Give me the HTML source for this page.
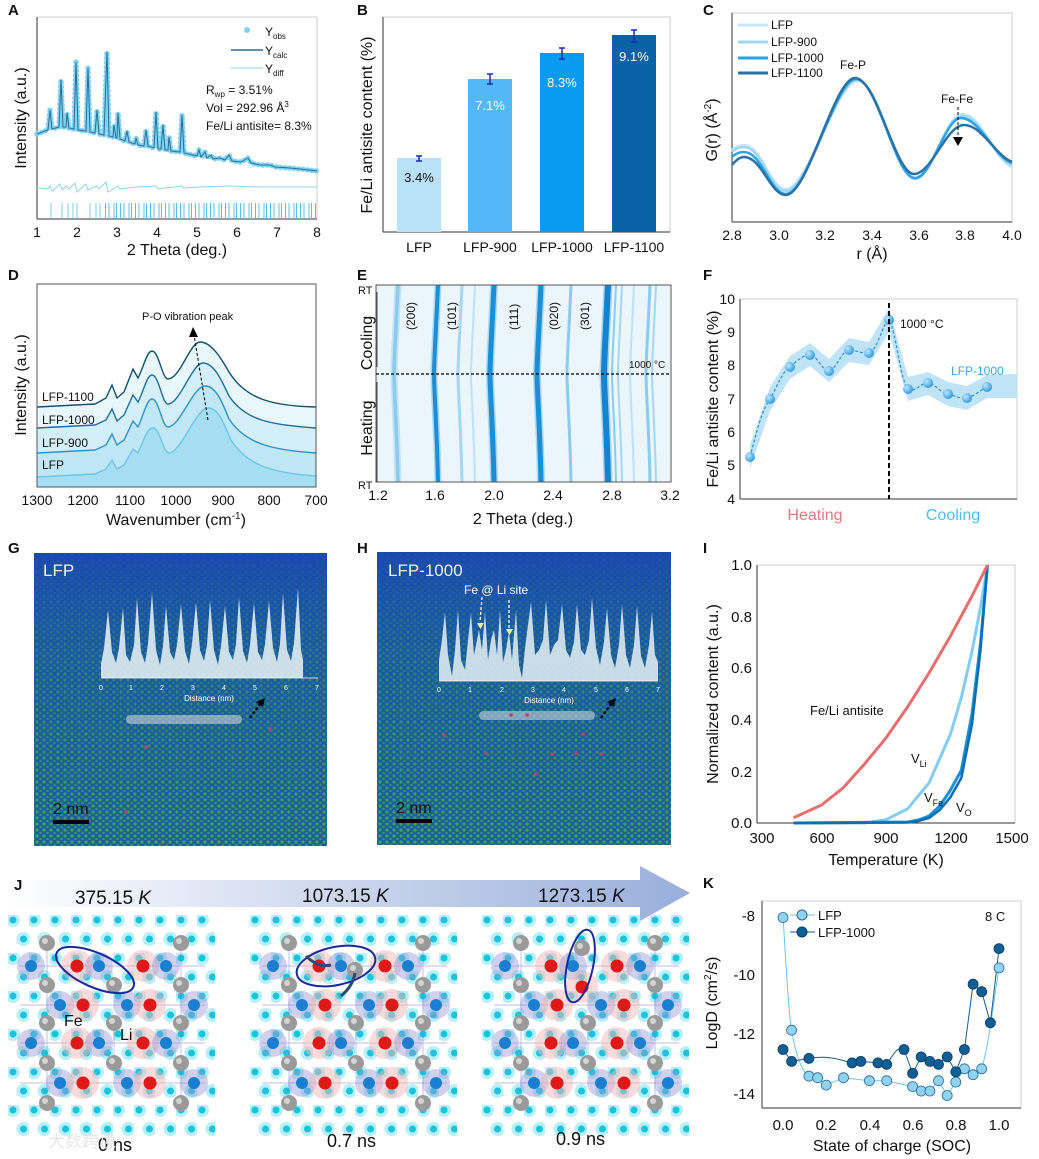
<!DOCTYPE html>
<html><head><meta charset="utf-8">
<style>
html,body{margin:0;padding:0;background:#fff}
svg{display:block}
text{font-family:"Liberation Sans","Noto Sans CJK SC",sans-serif;fill:#111}
.t{font-size:14px}
.lab{font-size:16px}
.pl{font-size:15px;font-weight:bold}
</style></head>
<body>
<svg width="1039" height="1159" viewBox="0 0 1039 1159" xmlns="http://www.w3.org/2000/svg">
<defs>
<pattern id="dots" width="7" height="6" patternUnits="userSpaceOnUse">
<rect width="7" height="6" fill="#1e5f96"/>
<circle cx="2" cy="2" r="1.6" fill="#3fae5a"/>
<circle cx="5.5" cy="5" r="1.3" fill="#36a06a"/>
</pattern>
<pattern id="cyan" width="21" height="38" patternUnits="userSpaceOnUse" x="8" y="915">
<circle cx="5" cy="5" r="7" fill="#86e4f0" opacity="0.6"/>
<circle cx="5" cy="5" r="3.5" fill="#18c4dc"/>
<circle cx="15.5" cy="24" r="7" fill="#86e4f0" opacity="0.6"/>
<circle cx="15.5" cy="24" r="3.5" fill="#18c4dc"/>
</pattern>
<linearGradient id="blueTop" x1="0" y1="0" x2="0" y2="1">
<stop offset="0" stop-color="#1a48b0" stop-opacity="0.95"/>
<stop offset="0.35" stop-color="#1a55a8" stop-opacity="0.55"/>
<stop offset="1" stop-color="#1a60a0" stop-opacity="0.1"/>
</linearGradient>
<linearGradient id="arrowG" x1="0" y1="0" x2="1" y2="0">
<stop offset="0" stop-color="#ffffff"/>
<stop offset="1" stop-color="#98aedb"/>
</linearGradient>
<radialGradient id="ball" cx="0.35" cy="0.35" r="0.7">
<stop offset="0" stop-color="#bfe8ff"/>
<stop offset="1" stop-color="#2a98e0"/>
</radialGradient>
<path id="st" d="M0 285C-2 330 -4 360 -4 374C-4 390 -1 430 0 482" fill="none"/>
<g id="ag"><circle r="8" fill="#9a9a9a"/><circle cx="-2" cy="-2" r="3" fill="#d4d4d4"/></g>
<g id="ar"><circle r="16" fill="#f4b8b8" opacity="0.5"/><circle r="6.5" fill="#e01818"/></g>
<g id="ab"><circle r="14" fill="#9a9ad8" opacity="0.45"/><circle r="6" fill="#1a7fd0"/></g>
<g id="pan">
<rect x="8" y="915" width="207" height="222" fill="url(#cyan)"/>
<g stroke="#6a6ad0" stroke-width="0.7" opacity="0.6">
<line x1="20" x2="205" y1="966" y2="966"/><line x1="20" x2="205" y1="1005" y2="1005"/><line x1="20" x2="205" y1="1043" y2="1043"/><line x1="20" x2="205" y1="1083" y2="1083"/>
<line x1="47" x2="47" y1="935" y2="1110"/><line x1="181" x2="181" y1="935" y2="1110"/><line x1="114" x2="114" y1="1015" y2="1070"/>
</g>
<use href="#ag" x="47" y="943"/><use href="#ag" x="181" y="943"/><use href="#ag" x="47" y="985"/><use href="#ag" x="181" y="985"/>
<use href="#ag" x="47" y="1023"/><use href="#ag" x="114" y="1023"/><use href="#ag" x="181" y="1023"/>
<use href="#ag" x="47" y="1063"/><use href="#ag" x="114" y="1063"/><use href="#ag" x="181" y="1063"/>
<use href="#ag" x="47" y="1103"/><use href="#ag" x="181" y="1103"/>
<use href="#ab" x="31" y="966"/><use href="#ar" x="77" y="966"/><use href="#ab" x="99" y="966"/><use href="#ar" x="143" y="966"/><use href="#ab" x="166" y="966"/>
<use href="#ab" x="60" y="1005"/><use href="#ar" x="83" y="1005"/><use href="#ab" x="127" y="1005"/><use href="#ar" x="150" y="1005"/><use href="#ab" x="194" y="1005"/>
<use href="#ab" x="31" y="1043"/><use href="#ar" x="77" y="1043"/><use href="#ab" x="99" y="1043"/><use href="#ar" x="143" y="1043"/><use href="#ab" x="166" y="1043"/>
<use href="#ab" x="60" y="1083"/><use href="#ar" x="83" y="1083"/><use href="#ab" x="127" y="1083"/><use href="#ar" x="150" y="1083"/><use href="#ab" x="194" y="1083"/>
</g>
</defs>

<!-- A -->
<text x="8" y="15" class="pl">A</text>
<rect x="37" y="17" width="280" height="202" fill="none" stroke="#ccc"/>
<line x1="37" y1="219" x2="317" y2="219" stroke="#333"/>
<line x1="37" y1="17" x2="37" y2="219" stroke="#333"/>
<path d="M37 134 L45 131 L48 130 L50 110 L52 129 L59 127 L61 80 L63 127 L66 127 L67 113 L69 128 L74 129 L76 62 L78 130 L86 131 L88 68 L90 132 L95 133 L97 110 L99 134 L104 135 L107 52 L109 136 L113 137 L114 125 L116 138 L117 138 L118 113 L120 139 L125 141 L127 131 L129 142 L135 144 L136 138 L138 145 L144 146 L146 130 L148 146 L154 148 L156 112 L158 149 L161 149 L163 125 L165 150 L168 150 L169 137 L171 151 L180 152 L182 115 L184 153 L197 156 L199 150 L201 157 L205 152 L207 158 L211 155 L213 159 L220 158 L225 160 L229 155 L232 161 L241 162 L248 158 L251 163 L260 165 L270 165 L275 167 L290 168 L300 169 L317 171" fill="none" stroke="#7ed3f3" stroke-width="5.5" stroke-dasharray="0 4.5" stroke-linecap="round"/>
<path d="M37 134 L45 131 L48 130 L50 110 L52 129 L59 127 L61 80 L63 127 L66 127 L67 113 L69 128 L74 129 L76 62 L78 130 L86 131 L88 68 L90 132 L95 133 L97 110 L99 134 L104 135 L107 52 L109 136 L113 137 L114 125 L116 138 L117 138 L118 113 L120 139 L125 141 L127 131 L129 142 L135 144 L136 138 L138 145 L144 146 L146 130 L148 146 L154 148 L156 112 L158 149 L161 149 L163 125 L165 150 L168 150 L169 137 L171 151 L180 152 L182 115 L184 153 L197 156 L199 150 L201 157 L205 152 L207 158 L211 155 L213 159 L220 158 L225 160 L229 155 L232 161 L241 162 L248 158 L251 163 L260 165 L270 165 L275 167 L290 168 L300 169 L317 171" fill="none" stroke="#2d6d94" stroke-width="1"/>
<path d="M37 188 L48 189 L50 186 L52 191 L60 184 L62 190 L66 186 L69 189 L75 183 L77 192 L86 184 L88 190 L97 186 L99 189 L106 182 L108 192 L118 186 L120 189 L137 187 L156 186 L158 189 L182 186 L184 188 L200 187 L230 186 L260 187 L317 187" fill="none" stroke="#8fd3ee" stroke-width="1"/>
<g stroke="#5cc0e4" stroke-width="0.8">
<path d="M51 203v16M62 203v16M68 203v16M73 203v16M77 203v16M90 203v16M96 203v16M100 203v16"/>
</g>
<line x1="105" y1="211" x2="317" y2="211" stroke="#5cc0e4" stroke-width="16" stroke-dasharray="1 2.5 1 4 1 1.5 1 3"/>
<g class="t" text-anchor="middle">
<text x="37" y="237">1</text><text x="77" y="237">2</text><text x="117" y="237">3</text><text x="157" y="237">4</text><text x="197" y="237">5</text><text x="237" y="237">6</text><text x="277" y="237">7</text><text x="317" y="237">8</text>
</g>
<text x="177" y="255" class="lab" text-anchor="middle">2 Theta (deg.)</text>
<text transform="translate(26,118) rotate(-90)" class="lab" text-anchor="middle">Intensity (a.u.)</text>
<circle cx="247" cy="30" r="3" fill="#7ed3f3"/>
<text x="265" y="36" font-size="12">Y<tspan font-size="8" dy="3">obs</tspan></text>
<line x1="231" y1="50" x2="263" y2="50" stroke="#2d6d94" stroke-width="1.5"/>
<text x="265" y="55" font-size="12">Y<tspan font-size="8" dy="3">calc</tspan></text>
<line x1="231" y1="68" x2="263" y2="68" stroke="#8fd3ee"/>
<text x="265" y="73" font-size="12">Y<tspan font-size="8" dy="3">diff</tspan></text>
<text x="206" y="94" font-size="12">R<tspan font-size="8" dy="3">wp</tspan><tspan dy="-3"> = 3.51%</tspan></text>
<text x="206" y="112" font-size="12">Vol = 292.96 Å<tspan font-size="8" dy="-5">3</tspan></text>
<text x="206" y="130" font-size="12">Fe/Li antisite= 8.3%</text>

<!-- B -->
<text x="357" y="15" class="pl">B</text>
<rect x="383" y="17" width="287" height="215" fill="none" stroke="#ccc"/>
<line x1="383" y1="232" x2="670" y2="232" stroke="#333"/>
<line x1="383" y1="17" x2="383" y2="232" stroke="#333"/>
<rect x="397" y="158" width="44" height="74" fill="#b9e2f9"/>
<rect x="468" y="79" width="44" height="153" fill="#53b9f6"/>
<rect x="540" y="53" width="44" height="179" fill="#0a9af0"/>
<rect x="612" y="35" width="44" height="197" fill="#0862a6"/>
<g stroke="#1a2bb0" stroke-width="1.5" fill="none">
<path d="M419 156v5M416 156h6M416 161h6"/>
<path d="M490 74v10M487 74h6M487 84h6"/>
<path d="M562 48v11M559 48h6M559 59h6"/>
<path d="M634 30v12M631 30h6M631 42h6"/>
</g>
<g text-anchor="middle" font-size="13">
<text x="419" y="182">3.4%</text>
<text x="490" y="110" style="fill:#fff">7.1%</text>
<text x="562" y="87" style="fill:#fff">8.3%</text>
<text x="634" y="61" style="fill:#fff">9.1%</text>
</g>
<g class="t" text-anchor="middle">
<text x="419" y="252">LFP</text><text x="490" y="252">LFP-900</text><text x="562" y="252">LFP-1000</text><text x="634" y="252">LFP-1100</text>
</g>
<text transform="translate(372,125) rotate(-90)" class="lab" text-anchor="middle">Fe/Li antisite content (%)</text>

<!-- C -->
<text x="703" y="15" class="pl">C</text>
<rect x="732" y="13" width="280" height="209" fill="none" stroke="#ccc"/>
<line x1="732" y1="222" x2="1012" y2="222" stroke="#333"/>
<line x1="732" y1="13" x2="732" y2="222" stroke="#333"/>
<g fill="none" stroke-width="2.5">
<path d="M732 150 C736 146 740 145 744 145 C762 145 770 189 786 189 C808 189 836 81 858 81 C880 81 895 178 915 178 C932 178 945 114 963 114 C982 114 995 162 1012 167" stroke="#c5e8f8"/>
<path d="M732 152 C736 148 740 147 744 147 C762 147 770 191 786 191 C808 191 836 80 857 80 C879 80 895 179 915 179 C932 179 945 116 962 116 C981 116 995 160 1012 165" stroke="#9fd6f2"/>
<path d="M732 157 C736 153 740 152 744 152 C762 152 770 194 786 194 C808 194 835 79 856 79 C878 79 895 178 915 178 C932 178 945 118 961 118 C980 118 995 158 1012 163" stroke="#2aa4e6"/>
<path d="M732 165 C736 160 740 157 744 157 C762 157 770 195 786 195 C808 195 834 78 855 78 C877 78 895 174 914 174 C932 174 946 125 964 125 C982 125 995 155 1012 162" stroke="#2a72a6"/>
</g>
<g stroke-width="3">
<line x1="738" y1="25" x2="768" y2="25" stroke="#c5e8f8"/>
<line x1="738" y1="42" x2="768" y2="42" stroke="#9fd6f2"/>
<line x1="738" y1="58" x2="768" y2="58" stroke="#2aa4e6"/>
<line x1="738" y1="73" x2="768" y2="73" stroke="#2a72a6"/>
</g>
<g font-size="12"><text x="771" y="29">LFP</text><text x="771" y="46">LFP-900</text><text x="771" y="62">LFP-1000</text><text x="771" y="77">LFP-1100</text></g>
<text x="840" y="69" font-size="12">Fe-P</text>
<text x="941" y="103" font-size="12">Fe-Fe</text>
<line x1="958" y1="107" x2="958" y2="138" stroke="#000" stroke-dasharray="3,2"/>
<path d="M953 137h10l-5 9z" fill="#000"/>
<g class="t" text-anchor="middle">
<text x="732" y="240">2.8</text><text x="779" y="240">3.0</text><text x="825" y="240">3.2</text><text x="872" y="240">3.4</text><text x="919" y="240">3.6</text><text x="965" y="240">3.8</text><text x="1012" y="240">4.0</text>
</g>
<text x="872" y="259" class="lab" text-anchor="middle">r (Å)</text>
<text transform="translate(717,130) rotate(-90)" class="lab" text-anchor="middle">G(r) (Å<tspan font-size="10" dy="-6">-2</tspan><tspan dy="6">)</tspan></text>

<!-- D -->
<text x="8" y="280" class="pl">D</text>
<path d="M37 407 L95 404 L106 398 L112 385 L117 398 L124 392 L133 369 L138 378 C144 366 147 351 152 351 C159 351 162 379 168 379 C180 379 190 342 200 342 C212 342 222 360 229 372 C245 398 270 406 316 407 L316 487 L37 487Z" fill="#e8f7fc"/>
<path d="M37 428 L95 425 L106 420 L112 409 L117 421 L124 415 L133 395 L138 402 C144 390 147 375 152 375 C159 375 162 404 168 404 C180 404 192 363 203 363 C215 363 223 384 229 396 C245 420 270 425 316 428 L316 487 L37 487Z" fill="#d4eff9"/>
<path d="M37 453 L95 450 L106 445 L112 434 L117 445 L124 440 L133 421 L138 427 C144 414 147 399 152 399 C159 399 162 427 168 427 C180 427 193 386 205 386 C217 386 224 407 229 419 C245 443 270 450 316 453 L316 487 L37 487Z" fill="#bfe7f6"/>
<path d="M37 477 L95 474 L106 469 L112 460 L117 469 L124 465 L133 449 L138 453 C144 440 147 428 153 428 C160 428 163 453 169 453 C181 453 196 408 208 408 C220 408 225 428 231 440 C246 464 270 473 316 476 L316 487 L37 487Z" fill="#a6def4"/>
<g fill="none" stroke-width="1.4">
<path d="M37 407 L95 404 L106 398 L112 385 L117 398 L124 392 L133 369 L138 378 C144 366 147 351 152 351 C159 351 162 379 168 379 C180 379 190 342 200 342 C212 342 222 360 229 372 C245 398 270 406 316 407" stroke="#12506e"/>
<path d="M37 428 L95 425 L106 420 L112 409 L117 421 L124 415 L133 395 L138 402 C144 390 147 375 152 375 C159 375 162 404 168 404 C180 404 192 363 203 363 C215 363 223 384 229 396 C245 420 270 425 316 428" stroke="#1e6ea0"/>
<path d="M37 453 L95 450 L106 445 L112 434 L117 445 L124 440 L133 421 L138 427 C144 414 147 399 152 399 C159 399 162 427 168 427 C180 427 193 386 205 386 C217 386 224 407 229 419 C245 443 270 450 316 453" stroke="#2f93c8"/>
<path d="M37 477 L95 474 L106 469 L112 460 L117 469 L124 465 L133 449 L138 453 C144 440 147 428 153 428 C160 428 163 453 169 453 C181 453 196 408 208 408 C220 408 225 428 231 440 C246 464 270 473 316 476" stroke="#6cc6ec"/>
</g>
<rect x="37" y="284" width="279" height="203" fill="none" stroke="#555"/>
<g font-size="12"><text x="42" y="401">LFP-1100</text><text x="42" y="424">LFP-1000</text><text x="42" y="447">LFP-900</text><text x="42" y="469">LFP</text></g>
<text x="142" y="320" font-size="11">P-O vibration peak</text>
<line x1="208" y1="420" x2="194" y2="335" stroke="#000" stroke-dasharray="3,2"/>
<path d="M189 337l4-10 5 10z" fill="#000"/>
<g class="t" text-anchor="middle">
<text x="37" y="505">1300</text><text x="83" y="505">1200</text><text x="130" y="505">1100</text><text x="176" y="505">1000</text><text x="223" y="505">900</text><text x="269" y="505">800</text><text x="316" y="505">700</text>
</g>
<text x="176" y="525" class="lab" text-anchor="middle">Wavenumber (cm<tspan font-size="10" dy="-6">-1</tspan><tspan dy="6">)</tspan></text>
<text transform="translate(26,385) rotate(-90)" class="lab" text-anchor="middle">Intensity (a.u.)</text>

<!-- E -->
<text x="357" y="280" class="pl">E</text>
<rect x="376" y="285" width="295" height="197" fill="#eaf5fc"/>
<g>
<use href="#st" x="398" stroke="#7cc4ec" stroke-width="7" opacity="0.35"/><use href="#st" x="398" stroke="#7cc4ec" stroke-width="3.5" opacity="0.8"/>
<use href="#st" x="438" stroke="#1a8fd8" stroke-width="7" opacity="0.3"/><use href="#st" x="438" stroke="#1a8fd8" stroke-width="4"/>
<use href="#st" x="462" stroke="#a6d6f2" stroke-width="3"/>
<use href="#st" x="475" stroke="#bfe1f5" stroke-width="2"/>
<use href="#st" x="494" stroke="#1a8fd8" stroke-width="8" opacity="0.3"/><use href="#st" x="494" stroke="#1a8fd8" stroke-width="5"/>
<use href="#st" x="541" stroke="#1a8fd8" stroke-width="8" opacity="0.3"/><use href="#st" x="541" stroke="#1a8fd8" stroke-width="5"/>
<use href="#st" x="571" stroke="#8ccbee" stroke-width="3"/>
<use href="#st" x="608" stroke="#1483d0" stroke-width="9" opacity="0.3"/><use href="#st" x="608" stroke="#1483d0" stroke-width="6"/>
<use href="#st" x="616" stroke="#8ccbee" stroke-width="2"/>
<use href="#st" x="622" stroke="#a6d6f2" stroke-width="2"/>
<use href="#st" x="634" stroke="#bfe1f5" stroke-width="2"/>
<use href="#st" x="650" stroke="#8ccbee" stroke-width="3"/>
<use href="#st" x="656" stroke="#a6d6f2" stroke-width="2"/>
</g>
<rect x="376" y="285" width="295" height="197" fill="none" stroke="#555"/>
<line x1="376" y1="374" x2="671" y2="374" stroke="#000" stroke-dasharray="3,2" stroke-width="1.2"/>
<text x="629" y="368" font-size="10">1000 °C</text>
<g font-size="12">
<text transform="translate(415,330) rotate(-90)">(200)</text>
<text transform="translate(456,330) rotate(-90)">(101)</text>
<text transform="translate(518,330) rotate(-90)">(111)</text>
<text transform="translate(558,330) rotate(-90)">(020)</text>
<text transform="translate(589,330) rotate(-90)">(301)</text>
</g>
<text x="358" y="294" font-size="11">RT</text>
<text x="358" y="489" font-size="11">RT</text>
<line x1="377" y1="292" x2="377" y2="367" stroke="#000" stroke-width="0.7"/>
<line x1="377" y1="382" x2="377" y2="482" stroke="#000" stroke-width="0.7"/>
<text transform="translate(372,343) rotate(-90)" class="lab" text-anchor="middle">Cooling</text>
<text transform="translate(372,428) rotate(-90)" class="lab" text-anchor="middle">Heating</text>
<g class="t" text-anchor="middle">
<text x="378" y="500">1.2</text><text x="435" y="500">1.6</text><text x="494" y="500">2.0</text><text x="553" y="500">2.4</text><text x="612" y="500">2.8</text><text x="670" y="500">3.2</text>
</g>
<text x="523" y="524" class="lab" text-anchor="middle">2 Theta (deg.)</text>

<!-- F -->
<text x="703" y="280" class="pl">F</text>
<rect x="740" y="299" width="277" height="200" fill="none" stroke="#ccc"/>
<line x1="740" y1="499" x2="1017" y2="499" stroke="#333"/>
<line x1="740" y1="299" x2="740" y2="499" stroke="#333"/>
<path d="M750 445 L770 387 L790 356 L810 343 L829 359 L849 338 L869 342 L889 308 L908 377 L928 372 L948 382 L967 386 L987 375 L1017 374 L1017 398 L987 398 L967 410 L948 406 L928 395 L908 401 L889 332 L869 365 L849 362 L829 382 L810 366 L790 379 L770 411 L750 468Z" fill="#bfe3f7"/>
<path d="M750 457 C757 430 762 410 770 399 C778 385 782 372 790 367 C798 360 803 355 810 355 C818 356 822 371 829 371 C836 370 842 350 849 350 C857 350 861 354 869 353 C878 350 883 322 889 320 C896 330 900 380 908 389 C916 393 920 383 928 383 C936 384 940 393 948 394 C956 396 960 399 967 398 C975 396 980 390 987 387" fill="none" stroke="#2a90d6" stroke-width="1.2" stroke-dasharray="3,2"/>
<g fill="url(#ball)">
<circle cx="750" cy="457" r="5"/><circle cx="770" cy="399" r="5"/><circle cx="790" cy="367" r="5"/><circle cx="810" cy="355" r="5"/><circle cx="829" cy="371" r="5"/><circle cx="849" cy="350" r="5"/><circle cx="869" cy="353" r="5"/><circle cx="889" cy="320" r="5"/><circle cx="908" cy="389" r="5"/><circle cx="928" cy="383" r="5"/><circle cx="948" cy="394" r="5"/><circle cx="967" cy="398" r="5"/><circle cx="987" cy="387" r="5"/>
</g>
<line x1="889" y1="303" x2="889" y2="499" stroke="#000" stroke-width="2" stroke-dasharray="5,3"/>
<text x="900" y="328" font-size="12">1000 °C</text>
<text x="951" y="375" font-size="12" style="fill:#3aa8e0">LFP-1000</text>
<g class="t" text-anchor="end">
<text x="735" y="304">10</text><text x="735" y="337">9</text><text x="735" y="370">8</text><text x="735" y="404">7</text><text x="735" y="437">6</text><text x="735" y="470">5</text><text x="735" y="504">4</text>
</g>
<text x="815" y="520" class="lab" text-anchor="middle" style="fill:#e07a80">Heating</text>
<text x="953" y="520" class="lab" text-anchor="middle" style="fill:#4cc0ea">Cooling</text>
<text transform="translate(718,399) rotate(-90)" class="lab" text-anchor="middle">Fe/Li antisite content (%)</text>

<!-- G -->
<text x="8" y="553" class="pl">G</text>
<rect x="34" y="553" width="293" height="293" fill="url(#dots)"/>
<rect x="34" y="553" width="293" height="293" fill="url(#blueTop)"/>
<path d="M101 678 L101 664 L104 648 L108 610 L112 652 L116 663 L119 648 L123 608 L126 655 L130 662 L134 645 L137 598 L141 652 L145 663 L148 644 L152 592 L156 650 L160 665 L163 646 L166 606 L170 652 L174 660 L177 645 L181 604 L185 651 L189 664 L192 644 L196 602 L200 650 L204 661 L207 645 L210 600 L214 650 L218 665 L221 646 L225 606 L229 652 L233 660 L236 644 L239 597 L243 651 L247 663 L250 645 L254 603 L258 652 L262 660 L265 644 L269 601 L273 648 L277 662 L280 644 L283 593 L287 650 L291 661 L294 643 L298 588 L301 650 L303 660 L303 678Z" fill="#dce9f1" opacity="0.92"/>
<line x1="101" y1="678" x2="318" y2="678" stroke="#fff" stroke-width="0.8"/>
<text x="43" y="576" font-size="17" style="fill:#f4f4dc">LFP</text>
<g font-size="7" text-anchor="middle">
<text x="101" y="690" style="fill:#fff">0</text><text x="131" y="690" style="fill:#fff">1</text><text x="162" y="690" style="fill:#fff">2</text><text x="193" y="690" style="fill:#fff">3</text><text x="224" y="690" style="fill:#fff">4</text><text x="255" y="690" style="fill:#fff">5</text><text x="286" y="690" style="fill:#fff">6</text><text x="317" y="690" style="fill:#fff">7</text>
<text x="209" y="701" font-size="8" style="fill:#fff">Distance (nm)</text>
</g>
<rect x="126" y="715" width="116" height="9" rx="4.5" fill="#d8dde2" opacity="0.55"/>
<line x1="250" y1="718" x2="260" y2="704" stroke="#000" stroke-width="2" stroke-dasharray="3,2"/>
<path d="M256 702l9-4-2 9z" fill="#000"/>
<text x="53" y="814" font-size="16">2 nm</text>
<rect x="53" y="820" width="36" height="4" fill="#000"/>
<g fill="#c04060"><circle cx="146" cy="747" r="1.8"/><circle cx="270" cy="729" r="1.8"/><circle cx="126" cy="812" r="1.8"/></g>

<!-- H -->
<text x="357" y="553" class="pl">H</text>
<rect x="377" y="552" width="294" height="293" fill="url(#dots)"/>
<rect x="377" y="552" width="294" height="293" fill="url(#blueTop)"/>
<path d="M439 681 L439 660 L442 640 L445 612 L448 655 L452 676 L455 650 L458 610 L461 660 L465 670 L468 640 L471 613 L474 655 L476 645 L479 630 L482 650 L485 612 L488 660 L491 640 L494 630 L497 655 L500 610 L503 662 L506 650 L509 632 L512 660 L516 610 L519 665 L522 678 L525 648 L531 602 L535 655 L539 650 L543 640 L546 600 L550 655 L554 645 L558 640 L562 604 L566 650 L570 658 L574 642 L577 604 L581 650 L585 655 L589 640 L592 598 L596 648 L600 665 L604 642 L607 608 L611 655 L615 668 L619 645 L622 604 L626 655 L630 668 L634 645 L637 606 L641 656 L645 668 L649 645 L652 612 L655 655 L658 662 L658 681Z" fill="#dce9f1" opacity="0.9"/>
<line x1="439" y1="681" x2="658" y2="681" stroke="#fff" stroke-width="0.8"/>
<text x="388" y="576" font-size="17" style="fill:#f4f4dc">LFP-1000</text>
<text x="464" y="594" font-size="12" style="fill:#fff">Fe @ Li site</text>
<g stroke="#fff" stroke-width="1.3" stroke-dasharray="3,2"><line x1="482" y1="597" x2="480" y2="622"/><line x1="509" y1="600" x2="509" y2="628"/></g>
<path d="M477 623h7l-3.5 6zM506 629h7l-3.5 6z" fill="#f6f0a0"/>
<g font-size="7" text-anchor="middle">
<text x="439" y="692" style="fill:#fff">0</text><text x="470" y="692" style="fill:#fff">1</text><text x="502" y="692" style="fill:#fff">2</text><text x="533" y="692" style="fill:#fff">3</text><text x="564" y="692" style="fill:#fff">4</text><text x="596" y="692" style="fill:#fff">5</text><text x="627" y="692" style="fill:#fff">6</text><text x="658" y="692" style="fill:#fff">7</text>
<text x="549" y="703" font-size="8" style="fill:#fff">Distance (nm)</text>
</g>
<rect x="479" y="711" width="116" height="9" rx="4.5" fill="#d8dde2" opacity="0.55"/>
<line x1="601" y1="718" x2="611" y2="704" stroke="#000" stroke-width="2" stroke-dasharray="3,2"/>
<path d="M607 702l9-4-2 9z" fill="#000"/>
<text x="396" y="813" font-size="16">2 nm</text>
<rect x="396" y="819" width="36" height="4" fill="#000"/>
<g fill="#c04060"><circle cx="511" cy="715" r="1.8"/><circle cx="527" cy="715" r="1.8"/><circle cx="444" cy="735" r="1.8"/><circle cx="583" cy="734" r="1.8"/><circle cx="486" cy="753" r="1.8"/><circle cx="552" cy="754" r="1.8"/><circle cx="576" cy="753" r="1.8"/><circle cx="601" cy="754" r="1.8"/><circle cx="536" cy="774" r="1.8"/></g>

<!-- I -->
<text x="703" y="553" class="pl">I</text>
<rect x="757" y="565" width="258" height="258" fill="none" stroke="#ccc"/>
<line x1="757" y1="823" x2="1015" y2="823" stroke="#333"/>
<line x1="757" y1="565" x2="757" y2="823" stroke="#333"/>
<g fill="none">
<path d="M793.6 823 L843 823 L864.5 823 L886 819.7 L907.5 808.9 L929 783 L950.5 734 L961.3 697.6 L972 651.5 L980.6 606.7 L987.5 565" stroke="#85cdf0" stroke-width="3"/>
<path d="M793.6 823 L907.5 822 L918.3 820 L929 816 L939.8 806 L950.5 790 L961.3 770.4 L972 713.9 L980.5 643 L987.5 565" stroke="#1d8fd6" stroke-width="3"/>
<path d="M793.6 823 L907.5 822.5 L918.3 821 L929 818 L939.8 810 L950.5 797 L961.3 778 L972 724 L980.5 650 L987.5 565" stroke="#0d6fb0" stroke-width="2.5"/>
<path d="M793.6 817.8 L821.5 805 L843 788 L864.5 764 L886 738 L907.5 707 L929 673 L950.5 636 L972 596 L987.5 565" stroke="#e56f6f" stroke-width="3"/>
</g>
<text x="810" y="715" font-size="13">Fe/Li antisite</text>
<text x="911" y="763" font-size="13">V<tspan font-size="9" dy="4">Li</tspan></text>
<text x="924" y="802" font-size="13">V<tspan font-size="9" dy="4">Fe</tspan></text>
<text x="956" y="812" font-size="13">V<tspan font-size="9" dy="4">O</tspan></text>
<g text-anchor="end" font-size="15">
<text x="752" y="570">1.0</text><text x="752" y="622">0.8</text><text x="752" y="673">0.6</text><text x="752" y="725">0.4</text><text x="752" y="777">0.2</text><text x="752" y="828">0.0</text>
</g>
<g text-anchor="middle" font-size="15">
<text x="762" y="843">300</text><text x="822" y="843">600</text><text x="886" y="843">900</text><text x="951" y="843">1200</text><text x="1012" y="843">1500</text>
</g>
<text x="886" y="865" class="lab" text-anchor="middle">Temperature (K)</text>
<text transform="translate(718,694) rotate(-90)" class="lab" text-anchor="middle">Normalized content (a.u.)</text>

<!-- J -->
<path d="M0 880H640V866L690 893L640 921V907H0L22 893Z" fill="url(#arrowG)"/>
<text x="14" y="890" class="pl">J</text>
<use href="#pan" x="0" y="0"/>
<use href="#pan" x="242" y="0"/>
<use href="#pan" x="474" y="0"/>
<use href="#ag" x="114" y="985"/>
<use href="#ag" x="355" y="970"/>
<use href="#ag" x="582" y="948"/>
<use href="#ar" x="582" y="987"/>
<text x="75" y="904" font-size="19">375.15 <tspan font-style="italic">K</tspan></text>
<text x="302" y="902" font-size="19">1073.15 <tspan font-style="italic">K</tspan></text>
<text x="538" y="902" font-size="19">1273.15 <tspan font-style="italic">K</tspan></text>
<g fill="none" stroke="#1a2a9a" stroke-width="2">
<ellipse cx="95" cy="970" rx="42" ry="17" transform="rotate(24 95 970)"/>
<ellipse cx="336" cy="966" rx="40" ry="19" transform="rotate(-12 336 966)"/>
<ellipse cx="580" cy="966" rx="13" ry="37" transform="rotate(12 580 966)"/>
</g>
<path d="M306 956q12 12 25 9M341 996q12-10 14-23" stroke="#2a4a7a" stroke-width="3" fill="none"/>
<text x="64" y="1026" font-size="16">Fe</text>
<text x="120" y="1040" font-size="16">Li</text>
<text x="98" y="1151" font-size="18">0 ns</text>
<text x="327" y="1147" font-size="18">0.7 ns</text>
<text x="556" y="1145" font-size="18">0.9 ns</text>
<text x="48" y="1147" font-size="17" style="fill:#e4e4e4;opacity:0.9">大数跨境</text>

<!-- K -->
<text x="703" y="888" class="pl">K</text>
<rect x="762" y="901" width="259" height="207" fill="none" stroke="#ccc"/>
<line x1="762" y1="1108" x2="1021" y2="1108" stroke="#333"/>
<line x1="762" y1="901" x2="762" y2="1108" stroke="#333"/>
<path d="M783 917.5 C786 960 788 1010 791.6 1030.2 C795 1050 800 1070 808.9 1076.2 L817.6 1077.7 L826.2 1085.1 L843.5 1077.7 L869.4 1080.7 L886.7 1080.7 L912.6 1086.6 L921.2 1091 L929.9 1091 L938.5 1080.7 L947.2 1095.5 L955.8 1082.1 L964.4 1068.8 L973.1 1074.7 L981.7 1068.8 C990 1040 995 990 999 967.9" fill="none" stroke="#6cc4ee"/>
<path d="M783 1049.5 L791.6 1061.4 L808.9 1058.4 C830 1055 840 1060 852.1 1062.9 L860.8 1061.4 L878 1062.9 L886.7 1064.4 C893 1055 898 1045 904 1049.5 L912.6 1073.3 L921.2 1056.9 L929.9 1061.4 L938.5 1064.4 L947.2 1056.9 L955.8 1071.8 L964.4 1049.5 L973.1 984.2 L981.7 991.7 L990.4 1022.8 L999 948.6" fill="none" stroke="#1a5a8a"/>
<g fill="#8fd2f2" stroke="#2a6a9a" stroke-width="0.8">
<circle cx="783" cy="917.5" r="5"/><circle cx="791.6" cy="1030.2" r="5"/><circle cx="808.9" cy="1076.2" r="5"/><circle cx="817.6" cy="1077.7" r="5"/><circle cx="826.2" cy="1085.1" r="5"/><circle cx="843.5" cy="1077.7" r="5"/><circle cx="869.4" cy="1080.7" r="5"/><circle cx="886.7" cy="1080.7" r="5"/><circle cx="912.6" cy="1086.6" r="5"/><circle cx="921.2" cy="1091" r="5"/><circle cx="929.9" cy="1091" r="5"/><circle cx="938.5" cy="1080.7" r="5"/><circle cx="947.2" cy="1095.5" r="5"/><circle cx="955.8" cy="1082.1" r="5"/><circle cx="964.4" cy="1068.8" r="5"/><circle cx="973.1" cy="1074.7" r="5"/><circle cx="981.7" cy="1068.8" r="5"/><circle cx="999" cy="967.9" r="5"/>
</g>
<g fill="#0e5f96" stroke="#0a3a60" stroke-width="0.8">
<circle cx="783" cy="1049.5" r="5"/><circle cx="791.6" cy="1061.4" r="5"/><circle cx="808.9" cy="1058.4" r="5"/><circle cx="852.1" cy="1062.9" r="5"/><circle cx="860.8" cy="1061.4" r="5"/><circle cx="878" cy="1062.9" r="5"/><circle cx="886.7" cy="1064.4" r="5"/><circle cx="904" cy="1049.5" r="5"/><circle cx="912.6" cy="1073.3" r="5"/><circle cx="921.2" cy="1056.9" r="5"/><circle cx="929.9" cy="1061.4" r="5"/><circle cx="938.5" cy="1064.4" r="5"/><circle cx="947.2" cy="1056.9" r="5"/><circle cx="955.8" cy="1071.8" r="5"/><circle cx="964.4" cy="1049.5" r="5"/><circle cx="973.1" cy="984.2" r="5"/><circle cx="981.7" cy="991.7" r="5"/><circle cx="990.4" cy="1022.8" r="5"/><circle cx="999" cy="948.6" r="5"/>
</g>
<line x1="790" y1="915" x2="815" y2="915" stroke="#6cc4ee"/>
<circle cx="802" cy="915" r="5" fill="#8fd2f2" stroke="#2a6a9a"/>
<line x1="790" y1="932" x2="815" y2="932" stroke="#1a5a8a"/>
<circle cx="802" cy="932" r="5" fill="#0e5f96" stroke="#0a3a60"/>
<text x="818" y="920" font-size="13">LFP</text>
<text x="818" y="937" font-size="13">LFP-1000</text>
<text x="985" y="921" font-size="13">8 C</text>
<g text-anchor="end" font-size="15">
<text x="755" y="921">-8</text><text x="755" y="980">-10</text><text x="755" y="1039">-12</text><text x="755" y="1099">-14</text>
</g>
<g text-anchor="middle" font-size="15">
<text x="783" y="1130">0.0</text><text x="826" y="1130">0.2</text><text x="870" y="1130">0.4</text><text x="913" y="1130">0.6</text><text x="956" y="1130">0.8</text><text x="999" y="1130">1.0</text>
</g>
<text x="892" y="1151" class="lab" text-anchor="middle">State of charge (SOC)</text>
<text transform="translate(717,1003) rotate(-90)" class="lab" text-anchor="middle">LogD (cm<tspan font-size="10" dy="-6">2</tspan><tspan dy="6">/s)</tspan></text>
</svg>
</body></html>
